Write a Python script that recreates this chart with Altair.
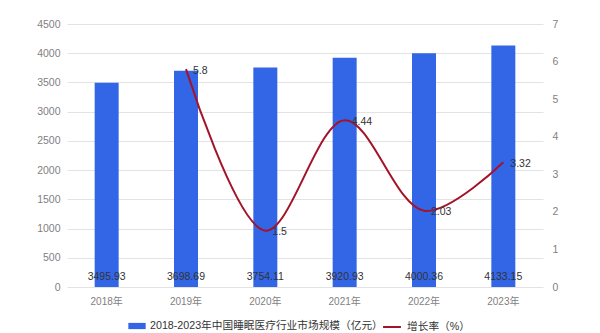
import altair as alt
import pandas as pd

years = ["2018年", "2019年", "2020年", "2021年", "2022年", "2023年"]
market = [3495.93, 3698.69, 3754.11, 3920.93, 4000.36, 4133.15]
growth_years = ["2019年", "2020年", "2021年", "2022年", "2023年"]
growth = [5.8, 1.5, 4.44, 2.03, 3.32]

bar_name = "2018-2023年中国睡眠医疗行业市场规模（亿元）"
line_name = "增长率（%）"

FONT = "Liberation Sans, Noto Sans CJK SC, sans-serif"

df_bar = pd.DataFrame({"year": years, "value": market, "s": bar_name, "zero": 0})
df_line = pd.DataFrame({"year": growth_years, "rate": growth, "s": line_name})

xenc = alt.X("year:N", sort=years, title=None,
             scale=alt.Scale(domain=years, paddingInner=0, paddingOuter=0),
             axis=alt.Axis(labelAngle=0, ticks=False, domain=False, grid=False,
                           labelColor="#7f7f7f", labelFontSize=10, labelPadding=9,
                           labelFont=FONT))

left_axis = alt.Axis(values=list(range(0, 4501, 500)), ticks=False, domain=False,
                     gridColor="#e3e3e3", labelColor="#7f7f7f", labelFontSize=10.5,
                     labelPadding=7, labelFont=FONT, format="d")
left_scale = alt.Scale(domain=[0, 4500], nice=False)

bars = alt.Chart(df_bar).mark_bar(size=24, color="#3366e6").encode(
    x=xenc,
    y=alt.Y("value:Q", title=None, scale=left_scale, axis=left_axis),
    color=alt.Color("s:N", scale=alt.Scale(domain=[bar_name], range=["#3366e6"]),
                    legend=alt.Legend(title=None, orient="none", legendX=61, legendY=293,
                                      padding=0, symbolType="M-1,-0.36H1V0.36H-1Z",
                                      symbolSize=300, labelFontSize=10.7, labelColor="#333333",
                                      labelFont=FONT, symbolStrokeWidth=0, labelOffset=4,
                                      labelLimit=500)),
)

bar_labels = alt.Chart(df_bar).mark_text(fontSize=10.5, color="#333333", baseline="middle",
                                         dy=-10, font=FONT).encode(
    x=alt.X("year:N", sort=years, bandPosition=0.5),
    y=alt.Y("zero:Q", title=None, scale=left_scale, axis=left_axis),
    text=alt.Text("value:Q", format=".2f"),
)

left = alt.layer(bars, bar_labels)

right_axis = alt.Axis(orient="right", values=list(range(0, 8)), ticks=False, domain=False,
                      grid=False, labelColor="#7f7f7f", labelFontSize=10.5,
                      labelPadding=9, labelFont=FONT)
right_scale = alt.Scale(domain=[0, 7], nice=False)

line = alt.Chart(df_line).mark_line(interpolate="catmull-rom", strokeWidth=2).encode(
    x=alt.X("year:N", sort=years, bandPosition=0.5),
    y=alt.Y("rate:Q", title=None, scale=right_scale, axis=right_axis),
    stroke=alt.Stroke("s:N", scale=alt.Scale(domain=[line_name], range=["#a3142a"]),
                      legend=alt.Legend(title=None, orient="none", legendX=315, legendY=293,
                                        padding=0, symbolType="stroke", symbolSize=320,
                                        symbolStrokeWidth=2, labelFontSize=10.7,
                                        labelColor="#333333", labelFont=FONT, labelOffset=5,
                                        labelLimit=300)),
)

line_labels = alt.Chart(df_line).mark_text(fontSize=10.5, color="#333333", align="left",
                                           baseline="middle", dx=7, dy=1.5, font=FONT).encode(
    x=alt.X("year:N", sort=years, bandPosition=0.5),
    y=alt.Y("rate:Q", title=None, scale=right_scale, axis=right_axis),
    text=alt.Text("rate:Q"),
)

right = alt.layer(line, line_labels)

chart = alt.layer(left, right).resolve_scale(y="independent").properties(
    width=476, height=263,
    autosize=alt.AutoSizeParams(type="none"),
    padding={"left": 67, "top": 24, "right": 57, "bottom": 46},
    background="white",
).configure_view(stroke=None)

chart.save("out.html", embed_options={"renderer": "svg", "actions": False})
